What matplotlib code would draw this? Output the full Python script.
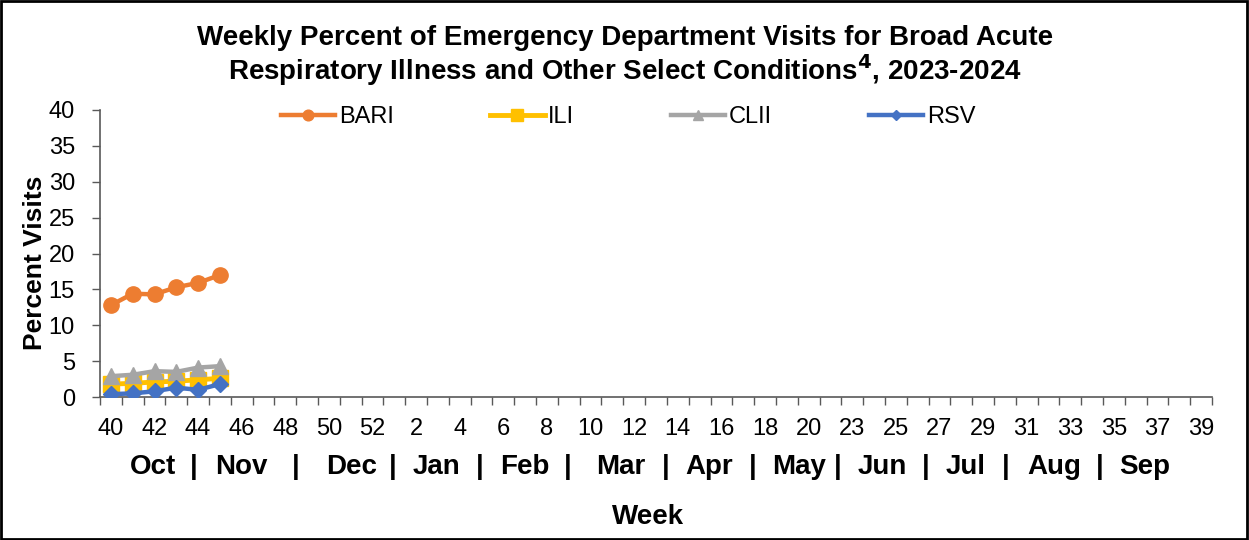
import matplotlib
matplotlib.use("Agg")
import matplotlib.pyplot as plt
from matplotlib.patches import Rectangle

plt.rcParams['font.family'] = ['Liberation Sans', 'DejaVu Sans']

weeks = list(range(40, 53)) + list(range(1, 22)) + list(range(23, 40))
bari = [12.8, 14.4, 14.3, 15.3, 15.9, 17.0]
ili = [1.8, 1.9, 2.1, 2.2, 2.4, 2.6]
clii = [2.9, 3.1, 3.6, 3.5, 4.1, 4.3]
rsv = [0.4, 0.5, 0.8, 1.3, 1.0, 1.8]
months = ["Oct", "Nov", "Dec", "Jan", "Feb", "Mar", "Apr", "May", "Jun", "Jul", "Aug", "Sep"]
month_x = [153, 241, 352, 437, 525, 621, 709, 799, 882, 966, 1054, 1145]
sep_x = [194, 296, 393, 480, 568, 666, 753, 838, 926, 1006, 1100]

W, H = 1249, 540
fig = plt.figure(figsize=(W / 100, H / 100), dpi=100)
ax = fig.add_axes([100 / W, 1 - 397 / H, (1212 - 100) / W, (397 - 110) / H])

x = list(range(len(weeks)))
n = len(bari)
ax.plot(x[:n], bari, color='#ED7D31', lw=3.2, marker='o', ms=11, label='BARI', zorder=3)
ax.plot(x[:n], ili, color='#FFC000', lw=3.5, marker='s', ms=12, label='ILI', zorder=3)
ax.plot(x[:n], clii, color='#A5A5A5', lw=3.2, marker='^', ms=11, label='CLII', zorder=4)
ax.plot(x[:n], rsv, color='#4472C4', lw=3.2, marker='D', ms=8, label='RSV', zorder=5)

ax.set_xlim(-0.5, len(weeks) - 0.5)
ax.set_ylim(0, 40)
ax.set_yticks(range(0, 41, 5))
ax.set_xticks(x[::2])
ax.set_xticklabels([str(w) for w in weeks[::2]])
ax.set_xticks([i - 0.5 for i in range(len(weeks) + 1)], minor=True)
ax.tick_params(axis='x', which='major', length=0, labelsize=17, pad=15)
ax.tick_params(axis='x', which='minor', length=6, width=1, direction='out', color='#595959')
ax.tick_params(axis='y', length=6, width=1, labelsize=17, pad=12, color='#595959')
for s in ['top', 'right']:
    ax.spines[s].set_visible(False)
for s in ['left', 'bottom']:
    ax.spines[s].set_color('#595959')
    ax.spines[s].set_linewidth(1.2)

fig.text(35 / W, 1 - 263 / H, 'Percent Visits', rotation=90, ha='center', va='center',
         fontsize=19, fontweight='bold')

fig.text(625 / W, 1 - 38 / H, 'Weekly Percent of Emergency Department Visits for Broad Acute',
         ha='center', va='center', fontsize=20, fontweight='bold')
fig.text(625 / W, 1 - 70 / H, r'Respiratory Illness and Other Select Conditions$^{\mathbf{4}}$, 2023-2024',
         ha='center', va='center', fontsize=20, fontweight='bold')

for m, mx in zip(months, month_x):
    fig.text(mx / W, 1 - 467 / H, m, ha='center', va='center', fontsize=20, fontweight='bold')
for sx in sep_x:
    fig.text(sx / W, 1 - 467 / H, '|', ha='center', va='center', fontsize=20, fontweight='bold')
fig.text(648 / W, 1 - 517 / H, 'Week', ha='center', va='center', fontsize=20, fontweight='bold')

leg = fig.legend(loc='center', bbox_to_anchor=(628 / W, 1 - 117 / H), ncol=4, frameon=False,
                 fontsize=17, handlelength=2.3, columnspacing=4.1, markerscale=0.7, handletextpad=0.15)

fig.patches.append(Rectangle((0.001, 0.002), 0.997, 0.996, transform=fig.transFigure,
                             fill=False, edgecolor='black', lw=2))

fig.savefig('out.png', dpi=100)
